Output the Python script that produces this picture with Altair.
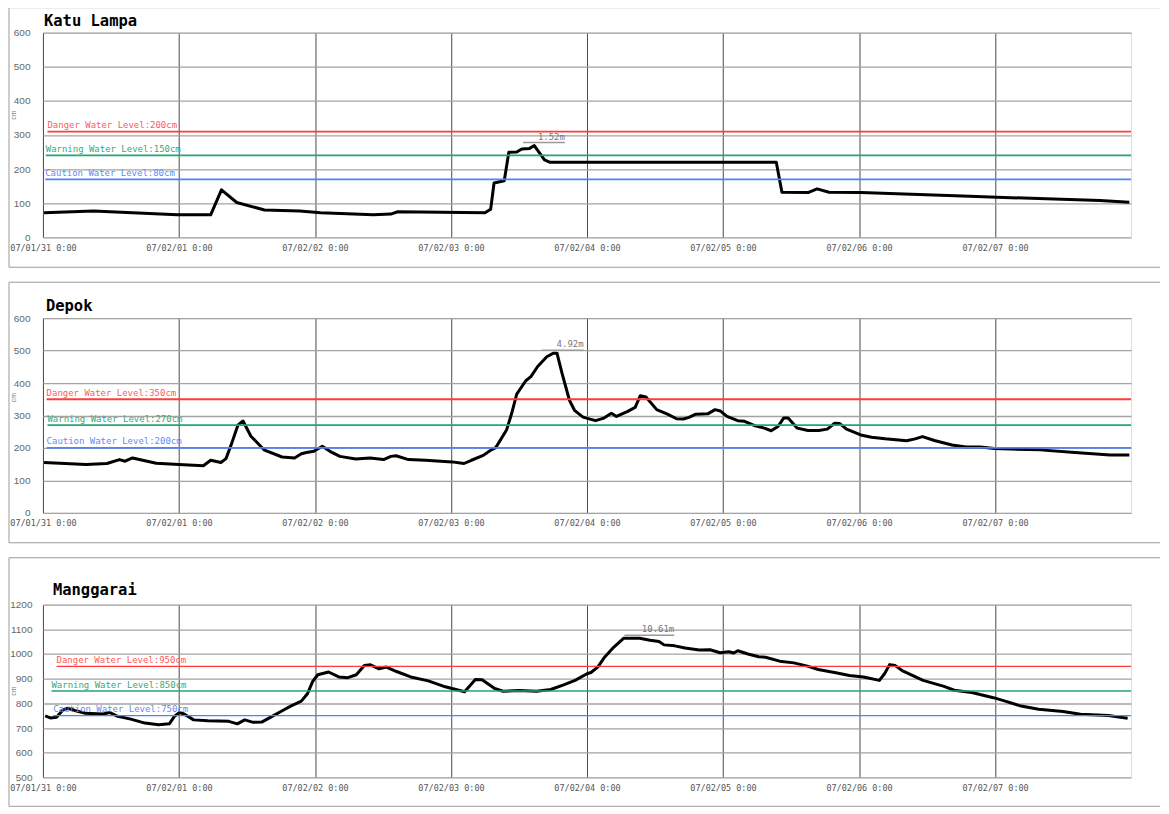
import json
import altair as alt
import pandas as pd

# ---------------- data ----------------
x_tick_hours = [0, 24, 48, 72, 96, 120, 144, 168]
x_tick_labels = ["07/01/31 0:00", "07/02/01 0:00", "07/02/02 0:00", "07/02/03 0:00",
                 "07/02/04 0:00", "07/02/05 0:00", "07/02/06 0:00", "07/02/07 0:00"]

# Katu Lampa
kl_hours = [0.2, 8.9, 23.7, 29.6, 31.5, 34.2, 39.1, 45.3, 49.0, 58.3, 61.4, 62.6, 78.0, 79.0,
            79.6, 81.4, 82.2, 83.6, 84.5, 85.8, 86.7, 88.5, 89.5, 129.4, 130.4, 135.0, 136.6,
            138.7, 144.3, 163.5, 186.5, 191.7]
kl_values = [72, 77, 66, 66, 139, 102, 80, 77, 72, 66, 68, 75, 72, 82,
             159, 166, 249, 250, 259, 260, 269, 227, 220, 220, 132, 131, 142,
             132, 131, 120, 108, 103]
kl_levels = [310, 240, 170]
kl_level_text = ["Danger Water Level:200cm", "Warning Water Level:150cm", "Caution Water Level:80cm"]
kl_label_hours = [0.8, 0.5, 0.4]
kl_peak = {"start": 84.7, "end": 92.1, "value": 269, "text": "1.52m"}

# Depok
dp_hours = [0.2, 7.6, 11.3, 13.5, 14.5, 15.8, 20.0, 24.0, 28.3, 29.6, 31.4, 32.3, 33.3, 34.4,
            35.3, 36.7, 39.1, 42.2, 44.4, 45.6, 46.5, 47.8, 49.3, 50.9, 52.4, 55.2, 57.7, 60.1,
            61.4, 62.3, 64.5, 67.5, 72.2, 74.3, 75.6, 77.7, 79.0, 79.9, 81.8, 82.7, 83.6, 85.2,
            86.1, 87.3, 88.9, 90.1, 90.7, 91.6, 92.9, 93.8, 95.3, 97.5, 99.0, 100.3, 101.2,
            103.1, 104.5, 105.4, 106.4, 108.3, 110.2, 111.8, 113.0, 114.0, 115.2, 117.3, 118.6,
            119.5, 120.7, 122.6, 123.8, 125.7, 127.3, 128.5, 129.7, 130.7, 131.5, 133.1, 135.0,
            136.9, 138.4, 139.7, 140.6, 141.8, 144.3, 146.2, 148.6, 152.4, 153.9, 155.2, 157.3,
            160.4, 162.9, 165.4, 167.9, 175.9, 182.1, 188.3, 191.7]
dp_values = [155, 149, 152, 164, 159, 169, 153, 149, 145, 162, 155, 167, 214, 270,
             283, 236, 193, 172, 169, 182, 186, 190, 205, 187, 174, 166, 169, 164,
             174, 176, 164, 162, 157, 152, 162, 177, 193, 201, 255, 306, 366, 407,
             420, 451, 481, 492, 492, 430, 347, 316, 295, 284, 292, 307, 297,
             312, 325, 361, 357, 318, 304, 290, 289, 294, 304, 305, 318,
             314, 297, 284, 282, 268, 261, 253, 266, 292, 292, 261, 254,
             254, 258, 276, 275, 258, 240, 233, 228, 222, 228, 235, 223,
             209, 203, 203, 198, 194, 186, 178, 178]
dp_levels = [350, 270, 200]
dp_level_text = ["Danger Water Level:350cm", "Warning Water Level:270cm", "Caution Water Level:200cm"]
dp_label_hours = [0.65, 0.8, 0.65]
dp_peak = {"start": 88.0, "end": 95.4, "value": 492, "text": "4.92m"}

# Manggarai
mg_hours = [0.4, 1.3, 2.4, 3.5, 4.4, 5.6, 7.5, 10.6, 11.8, 13.0, 15.5, 18.0, 20.4, 22.3, 23.2,
            24.1, 24.9, 26.6, 29.1, 32.8, 34.3, 35.6, 37.1, 38.6, 40.2, 42.7, 43.9, 45.6, 46.7,
            47.6, 48.5, 50.4, 52.2, 53.8, 55.3, 56.7, 57.8, 59.3, 60.6, 62.4, 64.9, 68.0, 71.0,
            74.4, 76.3, 77.5, 79.7, 81.2, 84.0, 87.1, 89.6, 92.0, 93.9, 96.0, 96.7, 97.9, 99.1,
            100.7, 102.5, 105.3, 107.1, 108.7, 109.6, 111.5, 113.3, 115.8, 117.7, 119.5, 121.0,
            121.9, 122.6, 124.4, 126.3, 127.5, 130.0, 132.5, 134.9, 136.8, 139.9, 142.3, 144.8,
            147.6, 148.5, 149.4, 150.4, 151.6, 155.3, 159.0, 160.8, 163.9, 167.7, 169.5, 172.6,
            175.7, 180.0, 183.1, 188.0, 191.4]
mg_values = [749, 741, 744, 773, 780, 771, 760, 757, 763, 749, 736, 720, 713, 717, 747,
             763, 757, 733, 729, 727, 717, 733, 723, 724, 744, 776, 791, 809, 840,
             889, 916, 927, 907, 904, 916, 953, 956, 940, 947, 929, 907, 891, 867,
             847, 897, 896, 860, 849, 852, 849, 856, 876, 893, 920, 925, 947, 987,
             1027, 1064, 1064, 1056, 1051, 1037, 1033, 1024, 1016, 1017, 1005, 1009,
             1004, 1013, 1000, 989, 987, 971, 964, 951, 937, 924, 913, 907,
             893, 920, 957, 953, 933, 893, 869, 853, 844, 823, 811, 789,
             776, 767, 756, 751, 740]
mg_levels = [950, 850, 750]
mg_level_text = ["Danger Water Level:950cm", "Warning Water Level:850cm", "Caution Water Level:750cm"]
mg_label_hours = [2.4, 1.5, 1.8]
mg_peak = {"start": 102.6, "end": 111.4, "value": 1064, "text": "10.61m"}

level_line_colors = ["#ff3b3b", "#22a673", "#4a84ff"]
level_text_colors = ["#ff5a5a", "#3aa878", "#5b8cff"]

X_END = 192
PLOT_W = 1090
MONO = "DejaVu Sans Mono"
FRAME_L = -34
FRAME_R = 1119

label_expr = json.dumps(x_tick_labels) + "[round(datum.value / 24)]"


def panel(title, hours, values, levels, level_text, label_hours, peak,
          ymin, ymax, height, rect_top, rect_bottom, title_x, title_y,
          y_label_pad, cm_y, level_width):
    x_axis = alt.Axis(values=x_tick_hours, grid=True, gridColor="#4a4a4a", gridWidth=1,
                      ticks=False, domain=False, labelExpr=label_expr, labelFont=MONO,
                      labelFontSize=8.5, labelColor="#555555", labelPadding=6,
                      labelFlush=False, labelOverlap=False, title=None)
    y_axis = alt.Axis(values=list(range(ymin, ymax + 1, 100)), grid=True, gridColor="#a3a3a3",
                      gridWidth=1.3, ticks=False, domain=False, labelColor="#666666",
                      labelFont="Liberation Sans", labelFontSize=10, labelPadding=y_label_pad,
                      labelOverlap=False, format="d",
                      title="cm", titleFontSize=7, titleColor="#777777", titleFontWeight="normal",
                      titleX=-26, titleY=cm_y)
    xs = alt.Scale(domain=[0, X_END], nice=False, zero=False)
    ys = alt.Scale(domain=[ymin, ymax], nice=False, zero=False)

    def X(field):
        return alt.X(field, type="quantitative", scale=xs, axis=x_axis)

    def Y(field):
        return alt.Y(field, type="quantitative", scale=ys, axis=y_axis)

    df = pd.DataFrame({"h": hours, "v": values})
    base_line = alt.Chart(df).mark_line(color="black", strokeWidth=3, strokeJoin="round").encode(
        x=X("h"), y=Y("v"))

    lv = pd.DataFrame({
        "level": levels, "text": level_text, "lh": label_hours, "end": [X_END] * 3,
        "lc": level_line_colors, "tc": level_text_colors,
    })
    lines = alt.Chart(lv).mark_rule(strokeWidth=level_width).encode(
        x=X("lh"), x2="end:Q", y=Y("level"),
        color=alt.Color("lc:N", scale=None),
    )
    texts = alt.Chart(lv).mark_text(align="left", baseline="middle", dy=-6.5, font=MONO,
                                    fontSize=9).encode(
        x=X("lh"), y=Y("level"), text="text:N",
        color=alt.Color("tc:N", scale=None),
    )

    pk = pd.DataFrame([peak])
    pk_rule = alt.Chart(pk).mark_rule(color="#9a9a9a", strokeWidth=1.5, yOffset=-3).encode(
        x=X("start"), x2="end:Q", y=Y("value"))
    pk_text = alt.Chart(pk).mark_text(align="right", baseline="bottom", dy=-4, font=MONO,
                                      fontSize=9, color="#777777").encode(
        x=X("end"), y=Y("value"), text="text:N")

    one = pd.DataFrame({"t": [title]})
    fstyle = dict(color="#9c9c9c", strokeWidth=1)
    f_top = alt.Chart(one).mark_rule(**fstyle).encode(
        x=alt.value(FRAME_L), x2=alt.value(FRAME_R), y=alt.value(rect_top))
    f_bot = alt.Chart(one).mark_rule(**fstyle).encode(
        x=alt.value(FRAME_L), x2=alt.value(FRAME_R), y=alt.value(rect_bottom))
    f_left = alt.Chart(one).mark_rule(**fstyle).encode(
        x=alt.value(FRAME_L), y=alt.value(rect_top), y2=alt.value(rect_bottom))
    ttl = alt.Chart(one).mark_text(align="left", baseline="alphabetic", font=MONO, fontSize=15.5,
                                   fontWeight="bold", color="black").encode(
        x=alt.value(title_x), y=alt.value(title_y), text="t:N")

    return alt.layer(base_line, f_top, f_bot, f_left, lines, texts, pk_rule, pk_text,
                     ttl).properties(width=PLOT_W, height=height)


p1 = panel("Katu Lampa", kl_hours, kl_values, kl_levels, kl_level_text, kl_label_hours, kl_peak,
           0, 600, 205, -25, 235, 1, -6.5, 13, 82, 1.8)
p2 = panel("Depok", dp_hours, dp_values, dp_levels, dp_level_text, dp_label_hours, dp_peak,
           0, 600, 195, -36, 225, 3, -7.5, 13, 79, 1.8)
p3 = panel("Manggarai", mg_hours, mg_values, mg_levels, mg_level_text, mg_label_hours, mg_peak,
           500, 1200, 173, -47, 202, 10, -9.5, 11, 86, 1.3)

chart = alt.vconcat(p1, p2, p3, spacing=13).properties(
    padding={"left": 0, "top": -2, "right": 0, "bottom": 0},
    autosize=alt.AutoSizeParams(type="pad"),
).configure_view(
    stroke="#999999", strokeWidth=1
).configure(background="white")

chart.save("out.html", embed_options={"renderer": "svg", "actions": False})
